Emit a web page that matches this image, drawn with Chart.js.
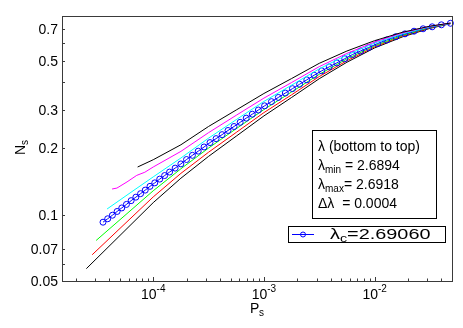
<!DOCTYPE html>
<html>
<head>
<meta charset="utf-8">
<script src="https://cdn.jsdelivr.net/npm/chart.js@4.4.0/dist/chart.umd.min.js"></script>
<style>
  html, body { margin: 0; padding: 0; background: #fff; }
</style>
</head>
<body>
<canvas id="chart" width="463" height="328"></canvas>
<script>
// shared P_s grid for the upper part of the thin curves
const gridP = [1e-4, 1.78e-4, 3.16e-4, 5.62e-4, 1e-3, 1.78e-3, 3.16e-3, 5.62e-3, 1e-2, 1.78e-2, 3.16e-2, 4.84e-2];

// lambda = 2.6894 (bottom, black)
const P1 = [2.49e-5, ...gridP];
const N1 = [0.0569, 0.1135, 0.1466, 0.1841, 0.2275, 0.2812, 0.3412, 0.4150, 0.4932, 0.5728, 0.6427, 0.7031, 0.7380];
// lambda = 2.6898 (red)
const P2 = [2.81e-5, ...gridP];
const N2 = [0.0658, 0.1205, 0.1542, 0.1923, 0.2366, 0.2911, 0.3508, 0.4246, 0.5012, 0.5794, 0.6486, 0.7063, 0.7396];
// lambda = 2.6902 (green)
const P3 = [3.05e-5, ...gridP];
const N3 = [0.0764, 0.1285, 0.1618, 0.2009, 0.2460, 0.3006, 0.3614, 0.4345, 0.5105, 0.5861, 0.6531, 0.7096, 0.7413];
// lambda = 2.6910 (cyan)
const P5 = [3.83e-5, 6.3e-5, ...gridP];
const N5 = [0.1062, 0.1265, 0.1486, 0.1811, 0.2228, 0.2704, 0.3273, 0.3882, 0.4603, 0.5321, 0.6026, 0.6637, 0.7145, 0.7413];
// lambda = 2.6914 (magenta)
const P6 = [4.25e-5, 4.7e-5, 5.8e-5, 7.1e-5, 8.4e-5, ...gridP];
const N6 = [0.1309, 0.1322, 0.1410, 0.1510, 0.1560, 0.1648, 0.1941, 0.2360, 0.2831, 0.3388, 0.3990, 0.4710, 0.5408, 0.6095, 0.6699, 0.7178, 0.7430];
// lambda = 2.6918 (top, black)
const P7 = [7.23e-5, ...gridP];
const N7 = [0.1648, 0.1778, 0.2080, 0.2518, 0.2992, 0.3556, 0.4159, 0.4875, 0.5546, 0.6180, 0.6745, 0.7194, 0.7430];

// lambda_c = 2.69060 (blue, circles)
const Pc = [3.52e-5, 3.88e-5, 4.28e-5, 4.72e-5, 5.20e-5, 5.73e-5, 6.32e-5, 6.97e-5, 7.69e-5, 8.47e-5,
            9.35e-5, 1.033e-4, 1.145e-4, 1.268e-4, 1.406e-4, 1.578e-4, 1.778e-4, 2.00e-4, 2.26e-4, 2.55e-4,
            2.88e-4, 3.26e-4, 3.70e-4, 4.19e-4, 4.74e-4, 5.37e-4, 6.10e-4, 6.92e-4, 7.85e-4, 8.91e-4,
            1.014e-3, 1.17e-3, 1.35e-3, 1.56e-3, 1.81e-3, 2.10e-3, 2.44e-3, 2.84e-3, 3.33e-3, 3.89e-3,
            4.56e-3, 5.37e-3, 6.32e-3, 7.46e-3, 8.83e-3, 1.064e-2, 1.285e-2, 1.552e-2, 1.88e-2, 2.27e-2,
            2.74e-2, 3.31e-2, 4.01e-2, 4.84e-2];
const Nc = [0.0925, 0.0959, 0.0995, 0.1035, 0.1074, 0.1114, 0.1159, 0.1202, 0.1247, 0.1294,
            0.1346, 0.1396, 0.1452, 0.1507, 0.1563, 0.1629, 0.1702, 0.1782, 0.1862, 0.1945,
            0.2032, 0.2128, 0.2218, 0.2312, 0.2415, 0.2518, 0.2630, 0.2748, 0.2864, 0.2992,
            0.3126, 0.3266, 0.3412, 0.3573, 0.3741, 0.3917, 0.4102, 0.4305, 0.4508, 0.4699,
            0.4898, 0.5117, 0.5346, 0.5546, 0.5754, 0.5998, 0.6223, 0.6442, 0.6637, 0.6823,
            0.6998, 0.7145, 0.7295, 0.7413];

// axis ticks
const yTicks = [0.05, 0.06, 0.07, 0.1, 0.2, 0.3, 0.4, 0.5, 0.6, 0.7];
const yLabels = ['0.05', '', '0.07', '0.1', '0.2', '0.3', '', '0.5', '', '0.7'];
const xMajor = [1e-4, 1e-3, 1e-2];
const xLabelExp = ['-4', '-3', '-2'];

const infoLines = [
  ['λ (bottom to top)', '', ''],
  ['λ', 'min', ' = 2.6894'],
  ['λ', 'max', '= 2.6918'],
  ['Δλ  = 0.0004', '', '']
];
const legendLabel = ['λ', 'c', '=2.69060'];

const FONT = '"Liberation Sans", Arial, sans-serif';

function pts(P, N) {
  return P.map((p, i) => ({ x: p, y: N[i] }));
}

function thin(P, N, color, order) {
  return {
    data: pts(P, N), borderColor: color, borderWidth: 1,
    pointRadius: 0, showLine: true, order: order
  };
}

const decorations = {
  id: 'decorations',
  afterDraw(chart) {
    const { ctx, chartArea: a, scales: { x, y } } = chart;
    ctx.save();
    ctx.strokeStyle = '#3a3a3a';
    ctx.lineWidth = 1;
    ctx.strokeRect(a.left + 0.5, a.top + 0.5, a.right - a.left, a.bottom - a.top);

    // y ticks + labels
    ctx.fillStyle = '#000';
    ctx.font = '14px ' + FONT;
    ctx.textAlign = 'right';
    ctx.textBaseline = 'middle';
    yTicks.forEach((v, i) => {
      const py = Math.round(y.getPixelForValue(v)) + 0.5;
      ctx.beginPath();
      ctx.moveTo(a.left, py);
      ctx.lineTo(a.left + 3, py);
      ctx.stroke();
      if (yLabels[i]) ctx.fillText(yLabels[i], a.left - 4, py + 1);
    });

    // x ticks (major + minor)
    for (let e = -5; e <= -2; e++) {
      for (let m = 1; m <= 9; m++) {
        const v = m * Math.pow(10, e);
        if (v < x.min || v > x.max) continue;
        const px = Math.round(x.getPixelForValue(v)) + 0.5;
        ctx.beginPath();
        ctx.moveTo(px, a.bottom);
        ctx.lineTo(px, a.bottom - (m === 1 ? 4 : 2.5));
        ctx.stroke();
      }
    }
    xMajor.forEach((v, i) => {
      const px = x.getPixelForValue(v);
      ctx.font = '14px ' + FONT;
      const w1 = ctx.measureText('10').width;
      ctx.font = '10px ' + FONT;
      const w2 = ctx.measureText(xLabelExp[i]).width;
      const left = px - (w1 + w2) / 2;
      ctx.textAlign = 'left';
      ctx.textBaseline = 'alphabetic';
      ctx.font = '14px ' + FONT;
      ctx.fillText('10', left, a.bottom + 18);
      ctx.font = '10px ' + FONT;
      ctx.fillText(xLabelExp[i], left + w1, a.bottom + 11);
    });

    // axis titles
    ctx.font = '14px ' + FONT;
    ctx.textAlign = 'left';
    ctx.textBaseline = 'alphabetic';
    ctx.fillText('P', 250, 313);
    ctx.font = '10px ' + FONT;
    ctx.fillText('s', 259, 316);
    ctx.save();
    ctx.translate(25, 155);
    ctx.rotate(-Math.PI / 2);
    ctx.font = '14px ' + FONT;
    ctx.fillText('N', 0, 0);
    ctx.font = '10px ' + FONT;
    ctx.fillText('s', 10, 3);
    ctx.restore();

    // info box
    ctx.fillStyle = '#fff';
    ctx.fillRect(312.5, 130.5, 124, 88);
    ctx.strokeStyle = '#000';
    ctx.strokeRect(312.5, 130.5, 124, 88);
    ctx.fillStyle = '#000';
    infoLines.forEach((ln, i) => {
      const by = 151 + i * 19;
      let cx = 318;
      ctx.font = '14px ' + FONT;
      ctx.fillText(ln[0], cx, by);
      cx += ctx.measureText(ln[0]).width;
      if (ln[1]) {
        ctx.font = '10px ' + FONT;
        ctx.fillText(ln[1], cx, by + 3);
        cx += ctx.measureText(ln[1]).width;
      }
      ctx.font = '14px ' + FONT;
      ctx.fillText(ln[2], cx, by);
    });

    // legend box
    ctx.fillStyle = '#fff';
    ctx.fillRect(288.5, 226.5, 157, 16);
    ctx.strokeStyle = '#000';
    ctx.strokeRect(288.5, 226.5, 157, 16);
    ctx.strokeStyle = '#0000ff';
    ctx.beginPath();
    ctx.moveTo(292, 234.5);
    ctx.lineTo(314, 234.5);
    ctx.stroke();
    ctx.beginPath();
    ctx.arc(303, 234.5, 2.5, 0, Math.PI * 2);
    ctx.stroke();
    // legend text is drawn wider than the box text, as in the figure
    ctx.fillStyle = '#000';
    ctx.save();
    ctx.translate(330, 0);
    ctx.scale(1.42, 1);
    let lx = 0;
    ctx.font = '14px ' + FONT;
    ctx.fillText(legendLabel[0], lx, 239);
    lx += ctx.measureText(legendLabel[0]).width;
    ctx.font = '10px ' + FONT;
    ctx.fillText(legendLabel[1], lx, 242);
    lx += ctx.measureText(legendLabel[1]).width;
    ctx.font = '14px ' + FONT;
    ctx.fillText(legendLabel[2], lx, 239);
    ctx.restore();
    ctx.restore();
  }
};

new Chart(document.getElementById('chart'), {
  type: 'scatter',
  data: {
    datasets: [
      thin(P7, N7, '#000000', 0),
      thin(P6, N6, '#ff00ff', 1),
      thin(P5, N5, '#00ffff', 2),
      {
        data: pts(Pc, Nc), borderColor: '#0000ff', borderWidth: 1,
        pointRadius: 3, pointBorderColor: '#0000ff', pointBackgroundColor: 'rgba(0,0,0,0)',
        pointBorderWidth: 1, showLine: true, order: 3, clip: 4
      },
      thin(P3, N3, '#00ff00', 4),
      thin(P2, N2, '#ff0000', 5),
      thin(P1, N1, '#000000', 6)
    ]
  },
  options: {
    responsive: false,
    devicePixelRatio: 1,
    animation: false,
    layout: { padding: { left: 62, right: 11, top: 16, bottom: 47 } },
    plugins: { legend: { display: false }, tooltip: { enabled: false } },
    scales: {
      x: { type: 'logarithmic', min: 1.5e-5, max: 0.05, display: false },
      y: { type: 'logarithmic', min: 0.05, max: 0.8, display: false }
    }
  },
  plugins: [decorations]
});
</script>
</body>
</html>
